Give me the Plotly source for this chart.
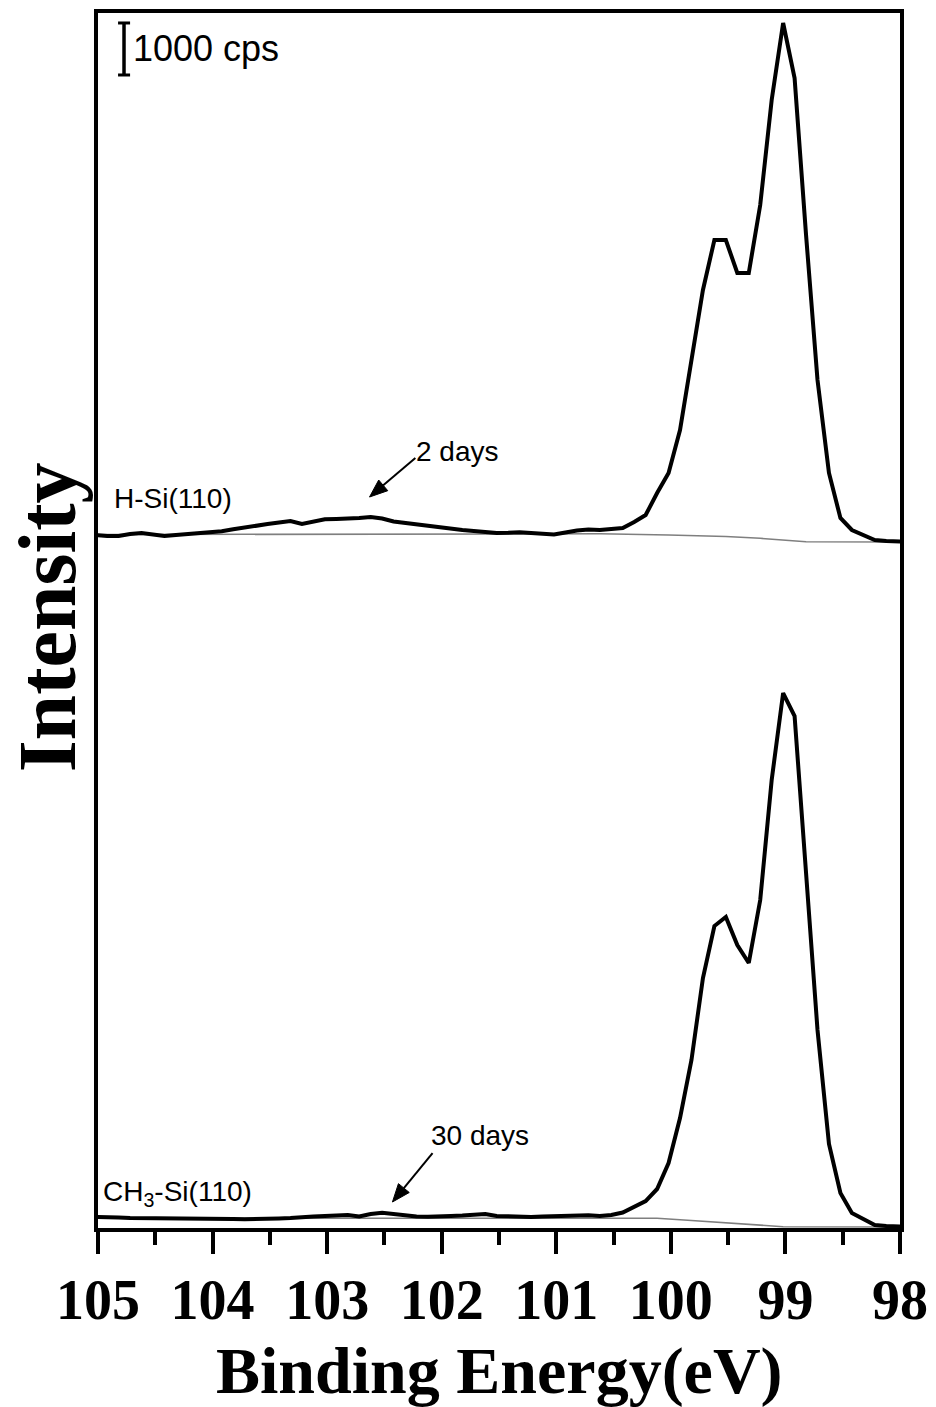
import plotly.graph_objects as go
import math

# Binding energies (eV), shared by both spectra
energy = [105.02, 104.92, 104.82, 104.72, 104.62, 104.52, 104.42, 104.32, 104.22, 104.12,
          104.02, 103.92, 103.82, 103.72, 103.62, 103.52, 103.42, 103.32, 103.22, 103.12,
          103.02, 102.92, 102.82, 102.72, 102.62, 102.52, 102.42, 102.32, 102.22, 102.12,
          102.02, 101.92, 101.82, 101.72, 101.62, 101.52, 101.42, 101.32, 101.22, 101.12,
          101.02, 100.92, 100.82, 100.72, 100.62, 100.52, 100.42, 100.32, 100.22, 100.12,
          100.02, 99.92, 99.82, 99.72, 99.62, 99.52, 99.42, 99.32, 99.22, 99.12,
          99.02, 98.92, 98.82, 98.72, 98.62, 98.52, 98.42, 98.32, 98.22, 98.12,
          98.02, 97.92]

# H-Si(110), 2 days (cps)
h_si = [327, 307, 307, 346, 365, 327, 307, 327, 346, 346,
        365, 398, 436, 475, 508, 538, 567, 596, 538, 586,
        630, 635, 635, 654, 673, 644, 586, 557, 538, 509,
        480, 455, 423, 404, 375, 365, 370, 380, 365, 342,
        335, 373, 413, 432, 423, 442, 461, 577, 711, 1134,
        1519, 2346, 3750, 5038, 6000, 6000, 5365, 5365, 6673, 8692,
        10173, 9115, 6096, 3308, 1519, 654, 423, 327, 231, 211,
        192, 192]

# CH3-Si(110), 30 days (cps)
ch3_si = [212, 212, 202, 192, 192, 187, 183, 183, 173, 173,
          173, 173, 173, 167, 167, 167, 183, 192, 212, 221,
          231, 240, 250, 221, 269, 294, 269, 231, 221, 217,
          217, 231, 240, 260, 269, 231, 221, 206, 212, 221,
          227, 231, 237, 244, 231, 250, 298, 404, 519, 750,
          1250, 2115, 3231, 4808, 5807, 5981, 5442, 5096, 6307, 8615,
          10288, 9846, 6788, 3808, 1615, 673, 288, 173, 58, 38,
          29, 19]

# Shirley-type backgrounds
h_bg_energy = [105.02, 100.62, 100.02, 99.52, 99.22, 98.82, 97.92]
h_bg = [335, 350, 327, 298, 263, 198, 192]
ch3_bg_energy = [105.02, 100.12, 99.82, 99.52, 99.22, 99.02, 97.92]
ch3_bg = [187, 187, 144, 96, 48, 25, 19]

offset_top = 13000
y_max = 23365
x_range = [105, 98]
tick_vals = [105, 104, 103, 102, 101, 100, 99, 98]
tick_text = ["105", "104", "103", "102", "101", "100", "99", "98"]

# arrow (tail -> tip) positions in data units
arrow_2d = dict(tail=(102.23, 14807), tip=(102.63, 14057))
arrow_30d = dict(tail=(102.08, 1442), tip=(102.43, 500))

W, H = 936, 1407
M = dict(l=98, r=36, t=13, b=179)
px_per_x = (W - M["l"] - M["r"]) / (x_range[0] - x_range[1])   # pixels per eV (axis reversed)
px_per_y = (H - M["t"] - M["b"]) / y_max                        # pixels per cps


def arrow_shapes(tail, tip, head_len=18, head_half=7, width=2):
    # work in screen-pixel space (x to the right, y downward) then map back to data
    tx = (x_range[0] - tail[0]) * px_per_x
    ty = -tail[1] * px_per_y
    hx = (x_range[0] - tip[0]) * px_per_x
    hy = -tip[1] * px_per_y
    dx, dy = hx - tx, hy - ty
    ln = math.hypot(dx, dy)
    ux, uy = dx / ln, dy / ln
    bx, by = hx - head_len * ux, hy - head_len * uy
    px_, py_ = -uy, ux
    c1 = (bx + head_half * px_, by + head_half * py_)
    c2 = (bx - head_half * px_, by - head_half * py_)

    def to_data(p):
        return (x_range[0] - p[0] / px_per_x, -p[1] / px_per_y)

    b = to_data((bx, by))
    d1, d2 = to_data(c1), to_data(c2)
    line = dict(type="line", xref="x", yref="y", x0=tail[0], y0=tail[1], x1=b[0], y1=b[1],
                line=dict(color="black", width=width))
    head = dict(type="path", xref="x", yref="y",
                path=f"M {tip[0]},{tip[1]} L {d1[0]},{d1[1]} L {d2[0]},{d2[1]} Z",
                fillcolor="black", line=dict(color="black", width=1))
    return [line, head]


fig = go.Figure()
fig.add_trace(go.Scatter(x=h_bg_energy, y=[v + offset_top for v in h_bg], mode="lines",
                         line=dict(color="#7f7f7f", width=1.6), showlegend=False))
fig.add_trace(go.Scatter(x=ch3_bg_energy, y=ch3_bg, mode="lines",
                         line=dict(color="#7f7f7f", width=1.6), showlegend=False))
fig.add_trace(go.Scatter(x=energy, y=[v + offset_top for v in h_si], mode="lines",
                         line=dict(color="black", width=4), showlegend=False))
fig.add_trace(go.Scatter(x=energy, y=ch3_si, mode="lines",
                         line=dict(color="black", width=4), showlegend=False))

txt_font = dict(family="Liberation Sans, Arial", color="black")

annotations = [
    dict(x=104.71, y=22692, xref="x", yref="y", text="1000 cps", showarrow=False,
         xanchor="left", yanchor="middle", font=dict(size=36, **txt_font)),
    dict(x=104.88, y=14038, xref="x", yref="y", text="H-Si(110)", showarrow=False,
         xanchor="left", yanchor="middle", font=dict(size=28, **txt_font)),
    dict(x=102.24, y=14923, xref="x", yref="y", text="2 days", showarrow=False,
         xanchor="left", yanchor="middle", font=dict(size=28, **txt_font)),
    dict(x=104.97, y=673, xref="x", yref="y", text="CH<sub>3</sub>-Si(110)", showarrow=False,
         xanchor="left", yanchor="middle", font=dict(size=28, **txt_font)),
    dict(x=102.11, y=1788, xref="x", yref="y", text="30 days", showarrow=False,
         xanchor="left", yanchor="middle", font=dict(size=28, **txt_font)),
    dict(x=-0.063, y=0.503, xref="paper", yref="paper", text="Intensity", showarrow=False,
         textangle=-90, xanchor="center", yanchor="middle",
         font=dict(family="Liberation Serif, Times New Roman", size=82, color="black", weight="bold")),
    dict(x=0.5, y=-0.0855, xref="paper", yref="paper", text="Binding Energy(eV)", showarrow=False,
         xanchor="center", yanchor="top",
         font=dict(family="Liberation Serif, Times New Roman", size=66, color="black", weight="bold")),
]

shapes = [
    dict(type="line", xref="x", yref="y", x0=104.773, x1=104.773, y0=22173, y1=23173,
         line=dict(color="black", width=3.5)),
    dict(type="line", xref="x", yref="y", x0=104.825, x1=104.72, y0=22173, y1=22173,
         line=dict(color="black", width=3)),
    dict(type="line", xref="x", yref="y", x0=104.825, x1=104.72, y0=23173, y1=23173,
         line=dict(color="black", width=3)),
]
shapes += arrow_shapes(arrow_2d["tail"], arrow_2d["tip"])
shapes += arrow_shapes(arrow_30d["tail"], arrow_30d["tip"])

fig.update_layout(
    width=W, height=H,
    margin=M,
    paper_bgcolor="white", plot_bgcolor="white",
    annotations=annotations, shapes=shapes,
    showlegend=False,
)
fig.update_xaxes(
    range=x_range, showgrid=False, zeroline=False,
    showline=True, linecolor="black", linewidth=4, mirror=True,
    ticks="outside", ticklen=22, tickwidth=4, tickcolor="black",
    tickvals=tick_vals, ticktext=tick_text,
    tickfont=dict(family="Liberation Serif, Times New Roman", size=56, color="black", weight="bold"),
    ticklabelstandoff=-2,
    minor=dict(ticks="outside", ticklen=13, tickwidth=4, tickcolor="black", dtick=0.5,
               tick0=98, showgrid=False),
    automargin=False,
)
fig.update_yaxes(
    range=[0, y_max], showgrid=False, zeroline=False,
    showline=True, linecolor="black", linewidth=4, mirror=True,
    ticks="", showticklabels=False, automargin=False,
)

fig.write_html("out.html")
